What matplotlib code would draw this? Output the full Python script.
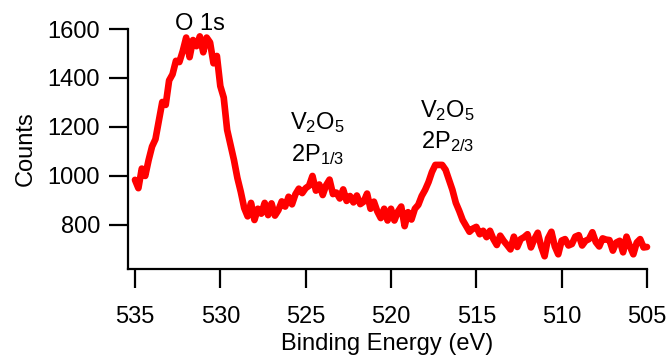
#!/usr/bin/env python3
"""
XPS spectrum: O 1s and V2O5 2P region.
"""

import numpy as np
import matplotlib
matplotlib.use('Agg')
import matplotlib.pyplot as plt

plt.rcParams['font.family'] = 'Liberation Sans'
plt.rcParams['mathtext.fontset'] = 'custom'
plt.rcParams['mathtext.rm'] = 'Liberation Sans'
plt.rcParams['mathtext.it'] = 'Liberation Sans'

# Binding energy grid (eV), 0.2 eV steps from 535 down to 505
energy_start = 535.0
energy_step = 0.2

# Counts
counts = [
    984, 950, 1030, 1000, 1065, 1120, 1150, 1225, 1302, 1290,
    1390, 1415, 1470, 1465, 1510, 1565, 1485, 1555, 1530, 1570,
    1505, 1565, 1545, 1460, 1490, 1367, 1320, 1188, 1127, 1065,
    992, 935, 869, 835, 890, 820, 866, 846, 890, 840,
    888, 838, 860, 896, 875, 915, 884, 925, 948, 930,
    950, 960, 1000, 940, 965, 922, 962, 985, 926, 932,
    908, 945, 898, 918, 892, 920, 885, 895, 928, 866,
    895, 855, 828, 866, 818, 866, 818, 854, 875, 795,
    852, 822, 866, 882, 918, 943, 975, 1016, 1045, 1045,
    1045, 1025, 984, 943, 890, 857, 820, 796, 772, 785,
    792, 762, 776, 750, 776, 742, 718, 756, 735, 718,
    700, 752, 710, 742, 750, 762, 708, 742, 768, 712,
    672, 745, 772, 712, 680, 736, 742, 716, 722, 752,
    758, 716, 735, 742, 770, 730, 712, 745, 740, 738,
    695, 728, 735, 688, 752, 712, 680, 728, 742, 708,
    710,
]
energy = energy_start - energy_step * np.arange(len(counts))

# Peak labels: (energy, counts at baseline, text)
label_x = [531.2, 524.3, 524.3, 516.7, 516.7]
label_y = [1596, 1192, 1062, 1242, 1112]
label_txt = ['O 1s', r'V$_\mathregular{2}$O$_\mathregular{5}$',
             r'2P$_\mathregular{1/3}$',
             r'V$_\mathregular{2}$O$_\mathregular{5}$',
             r'2P$_\mathregular{2/3}$']

fig = plt.figure(figsize=(6.69, 3.6), dpi=100)
ax = fig.add_axes([0.1913, 0.2528, 0.9671 - 0.1913, 0.9194 - 0.2528])

ax.plot(energy, counts, color='#ff0000', lw=4.8, solid_joinstyle='round',
        solid_capstyle='round', clip_on=False)

ax.set_xlim(535.41, 505)
ax.set_ylim(620, 1600)
ax.set_xticks([535, 530, 525, 520, 515, 510, 505])
ax.set_yticks([800, 1000, 1200, 1400, 1600])

for side in ['top', 'right']:
    ax.spines[side].set_visible(False)
for side in ['left', 'bottom']:
    ax.spines[side].set_linewidth(1.6)

ax.tick_params(axis='both', direction='out', length=13.5, width=1.6,
               labelsize=17, color='black')
ax.tick_params(axis='x', pad=13)
ax.tick_params(axis='y', pad=6.5)

ax.set_xlabel('Binding Energy (eV)', fontsize=17, labelpad=4)
ax.set_ylabel('Counts', fontsize=17, labelpad=8)

for x, y, t in zip(label_x, label_y, label_txt):
    ax.text(x, y, t, fontsize=17, ha='center', va='baseline')

plt.savefig('out.png', dpi=100)
print("Saved out.png")
